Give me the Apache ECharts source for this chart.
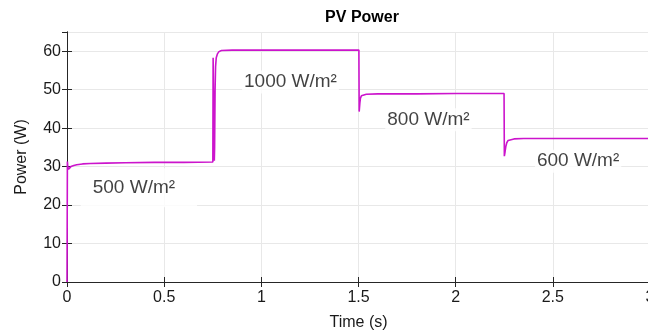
<!DOCTYPE html>
<html>
<head>
<meta charset="utf-8">
<script src="https://cdn.jsdelivr.net/npm/echarts@6/dist/echarts.min.js"></script>
<style>
html, body { margin: 0; padding: 0; background: #fff; }
#chart { width: 648px; height: 333px; }
</style>
</head>
<body>
<div id="chart"></div>
<script>
// time (s) and PV power (W)
var timeS = [0, 0.002, 0.004, 0.008, 0.012, 0.02, 0.035, 0.05, 0.08, 0.12, 0.2, 0.3, 0.45, 0.6, 0.7505,
    0.752, 0.7535, 0.758, 0.7595, 0.762, 0.7645, 0.768, 0.774, 0.782, 0.795, 0.85, 1.0, 1.2, 1.4, 1.502,
    1.5035, 1.507, 1.51, 1.515, 1.52, 1.54, 1.6, 1.8, 2.0, 2.2, 2.249,
    2.2505, 2.254, 2.258, 2.263, 2.27, 2.28, 2.3, 2.35, 2.5, 2.75, 3.0];
var powerW = [0, 31.3, 30.0, 29.3, 29.6, 30.0, 30.3, 30.5, 30.7, 30.8, 30.9, 31.0, 31.1, 31.1, 31.2,
    58.3, 50, 31.5, 35, 50, 56, 58.3, 59.3, 59.9, 60.2, 60.3, 60.3, 60.3, 60.3, 60.3,
    44.3, 46.5, 47.8, 48.4, 48.7, 48.8, 48.9, 48.9, 49.0, 49.0, 49.0,
    32.7, 33.8, 35.2, 36.2, 36.8, 37.1, 37.2, 37.3, 37.3, 37.3, 37.3];

// irradiance annotations
var irrNames = ['500 W/m²', '1000 W/m²', '800 W/m²', '600 W/m²'];
var irrTimes = [0.37, 1.15, 1.86, 2.63];
var irrPowers = [24.5, 52, 42.2, 31.4];

var xTicks = { min: 0, max: 3, interval: 0.5 };
var yTicks = { min: 0, max: 65, interval: 10 };

var linePts = [];
for (var i = 0; i < timeS.length; i++) {
    linePts.push([timeS[i], powerW[i]]);
}
var notePts = [];
for (var j = 0; j < irrNames.length; j++) {
    var item = { value: [irrTimes[j], irrPowers[j]], name: irrNames[j] };
    if (j === 0) {
        item.label = { padding: [6, 22, 14, 12] };//the first label sits in a bigger white box
    }
    notePts.push(item);
}

var axisCol = '#262626';
var font = 'Liberation Sans, Arial, Helvetica, sans-serif';

var chart = echarts.init(document.getElementById('chart'));
chart.setOption({
    animation: false,
    title: {
        text: 'PV Power',
        left: 357, top: 5, textAlign: 'center',
        textStyle: { fontFamily: font, fontSize: 16, fontWeight: 'bold', color: '#000' }
    },
    grid: { left: 67, top: 32, height: 250, width: 583, containLabel: false, outerBoundsMode: 'none' },
    xAxis: [{
        type: 'value', min: xTicks.min, max: xTicks.max, interval: xTicks.interval,
        name: 'Time (s)', nameLocation: 'middle', nameGap: 33,
        nameTextStyle: { fontFamily: font, fontSize: 16, color: '#1a1a1a' },
        axisLine: { lineStyle: { color: axisCol, width: 1 } },
        axisTick: { inside: true, length: 5, lineStyle: { color: axisCol } },
        axisLabel: { fontFamily: font, fontSize: 16, color: '#1a1a1a', margin: 8 },
        splitLine: { show: true, lineStyle: { color: '#e8e8e8', width: 1 } }
    }, {
        type: 'value', position: 'top', min: xTicks.min, max: xTicks.max, interval: xTicks.interval,
        axisLine: { show: true, lineStyle: { color: axisCol, width: 1 } },
        axisTick: { show: true, inside: true, length: 5, lineStyle: { color: axisCol } },
        axisLabel: { show: false }, splitLine: { show: false }
    }],
    yAxis: [{
        type: 'value', min: yTicks.min, max: yTicks.max, interval: yTicks.interval,
        name: 'Power (W)', nameLocation: 'middle', nameGap: 37, nameRotate: 90,
        nameTextStyle: { fontFamily: font, fontSize: 16, color: '#1a1a1a' },
        axisLine: { show: true, lineStyle: { color: axisCol, width: 1 } },
        axisTick: { show: true, inside: true, length: 5, lineStyle: { color: axisCol } },
        axisLabel: { fontFamily: font, fontSize: 16, color: '#1a1a1a', margin: 6, showMaxLabel: false },
        splitLine: { show: true, lineStyle: { color: '#e8e8e8', width: 1 } }
    }, {
        type: 'value', position: 'right', min: yTicks.min, max: yTicks.max, interval: yTicks.interval,
        axisLine: { show: true, lineStyle: { color: axisCol, width: 1 } },
        axisTick: { show: true, inside: true, length: 5, lineStyle: { color: axisCol } },
        axisLabel: { show: false }, splitLine: { show: false }
    }],
    series: [{
        type: 'line', data: linePts, showSymbol: false, symbol: 'none',
        lineStyle: { color: '#cc14cc', width: 1.6 }, z: 3
    }, {
        type: 'scatter', data: notePts, symbolSize: 0, z: 2, silent: true,
        label: {
            show: true, position: 'inside', formatter: '{b}',
            fontFamily: font, fontSize: 19, color: '#111',
            backgroundColor: '#fff', padding: [2, 2]
        }
    }]
});
</script>
</body>
</html>
